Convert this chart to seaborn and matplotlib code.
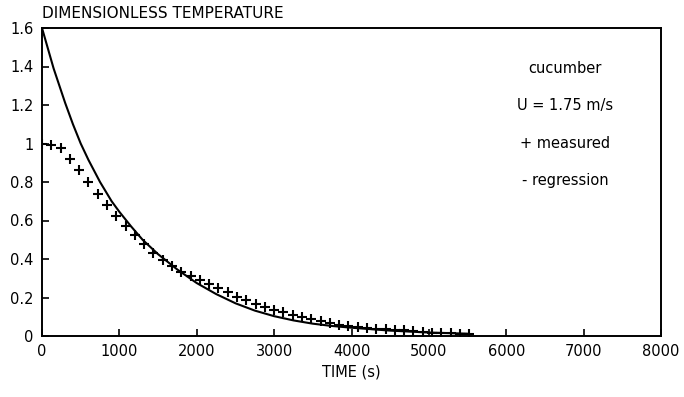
import matplotlib
matplotlib.use("Agg")
from matplotlib import pyplot as plt
import pandas as pd
import seaborn as sns

# measured points (time in s, dimensionless temperature)
meas_time = [0, 120, 240, 360, 480, 600, 720, 840, 960, 1080, 1200, 1320, 1440,
             1560, 1680, 1800, 1920, 2040, 2160, 2280, 2400, 2520, 2640, 2760,
             2880, 3000, 3120, 3240, 3360, 3480, 3600, 3720, 3840, 3960, 4080,
             4200, 4320, 4440, 4560, 4680, 4800, 4920, 5040, 5160, 5280, 5400, 5520]
meas_temp = [1.0, 0.99, 0.975, 0.92, 0.86, 0.80, 0.74, 0.68, 0.625, 0.572, 0.525,
             0.478, 0.432, 0.396, 0.365, 0.335, 0.312, 0.29, 0.268, 0.248, 0.226,
             0.205, 0.188, 0.168, 0.153, 0.137, 0.126, 0.11, 0.10, 0.088, 0.076,
             0.067, 0.058, 0.05, 0.046, 0.042, 0.038, 0.035, 0.032, 0.029, 0.026,
             0.022, 0.018, 0.015, 0.013, 0.011, 0.009]

# regression curve
reg_time = [0, 50, 100, 150, 200, 300, 400, 500, 600, 750, 900, 1000, 1150, 1300,
            1500, 1750, 2000, 2250, 2500, 2750, 3000, 3250, 3500, 3750, 4000,
            4500, 5000, 5500]
reg_temp = [1.60, 1.53, 1.46, 1.39, 1.33, 1.21, 1.10, 1.00, 0.915, 0.80, 0.70,
            0.645, 0.57, 0.50, 0.425, 0.345, 0.275, 0.218, 0.170, 0.132, 0.103,
            0.081, 0.064, 0.052, 0.043, 0.028, 0.018, 0.012]

x_ticks = [0, 1000, 2000, 3000, 4000, 5000, 6000, 7000, 8000]
y_ticks = [0, 0.2, 0.4, 0.6, 0.8, 1.0, 1.2, 1.4, 1.6]
y_labels = ["0", "0.2", "0.4", "0.6", "0.8", "1", "1.2", "1.4", "1.6"]
legend_lines = ["cucumber", "U = 1.75 m/s", "+ measured", "- regression"]

sns.set_style("ticks")
plt.rcParams['font.family'] = ['DejaVu Sans']
plt.rcParams['text.color'] = 'black'

meas = pd.DataFrame({"time": meas_time, "temp": meas_temp})
reg = pd.DataFrame({"time": reg_time, "temp": reg_temp})

fig = plt.figure(figsize=(6.84, 3.97), dpi=100)
ax = fig.add_axes([42 / 684, 1 - 336 / 397, 619 / 684, 308 / 397])

sns.lineplot(data=reg, x="time", y="temp", ax=ax, color="black", linewidth=1.5)
sns.scatterplot(data=meas, x="time", y="temp", ax=ax, marker="+", color="black",
                s=50, linewidth=1.5)

ax.set_xlim(0, 8000)
ax.set_ylim(0, 1.6)
ax.set_xticks(x_ticks)
ax.set_yticks(y_ticks)
ax.set_yticklabels(y_labels)
ax.tick_params(direction="in", length=5, width=1.2, labelsize=10.5,
               colors="black", labelcolor="black", pad=6)
for s in ax.spines.values():
    s.set_visible(True)
    s.set_color("black")
    s.set_linewidth(1.4)

ax.set_xlabel("TIME (s)", fontsize=10.5, labelpad=4, color="black")
ax.set_ylabel("")
fig.text(42 / 684, 1 - 14 / 397, "DIMENSIONLESS TEMPERATURE", fontsize=11,
         va="center", ha="left", color="black")

for i, line in enumerate(legend_lines):
    ax.text(0.845, 0.87 - i * 0.122, line, transform=ax.transAxes,
            ha="center", va="center", fontsize=10.5, color="black")

fig.savefig("out.png", dpi=100)
